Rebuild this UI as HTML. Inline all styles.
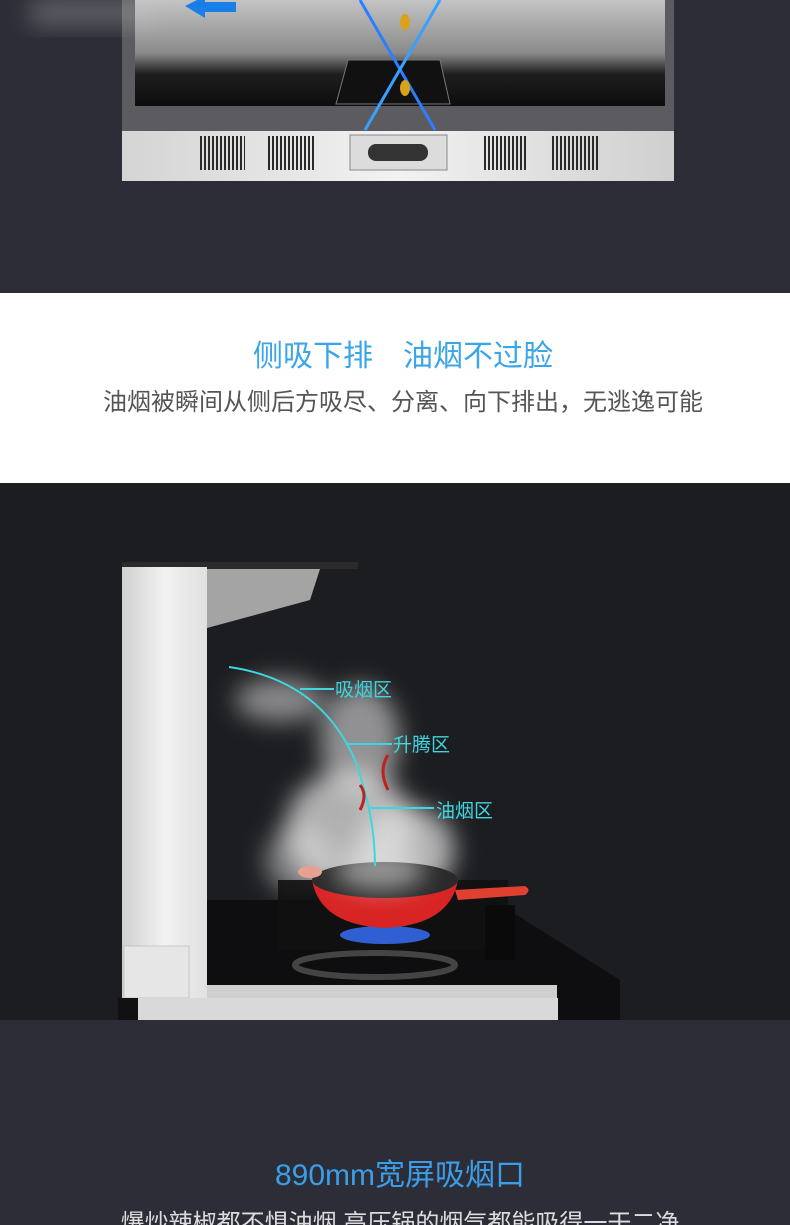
<!DOCTYPE html>
<html><head><meta charset="utf-8"><style>
html,body{margin:0;padding:0;background:#2d2d37;}
svg{display:block}
text{font-family:"Liberation Sans","Noto Sans CJK SC",sans-serif}
</style></head><body>
<svg width="790" height="1225" viewBox="0 0 790 1225" xmlns="http://www.w3.org/2000/svg">
<defs>
<linearGradient id="scr" x1="0" y1="0" x2="0" y2="1"><stop offset="0" stop-color="#c4c4c4"/><stop offset="0.5" stop-color="#8a8a8a"/><stop offset="0.7" stop-color="#1e1e1e"/><stop offset="1" stop-color="#0d0d0d"/></linearGradient>
<linearGradient id="steel" x1="0" y1="0" x2="1" y2="0"><stop offset="0" stop-color="#d4d4d4"/><stop offset="0.5" stop-color="#f2f2f2"/><stop offset="1" stop-color="#cfcfcf"/></linearGradient>
<linearGradient id="col" x1="0" y1="0" x2="1" y2="0"><stop offset="0" stop-color="#d0d0d0"/><stop offset="0.5" stop-color="#f2f2f2"/><stop offset="1" stop-color="#e0e0e0"/></linearGradient>
<filter id="blur" x="-50%" y="-50%" width="200%" height="200%"><feGaussianBlur stdDeviation="12"/></filter>
<pattern id="vent" width="4" height="10" patternUnits="userSpaceOnUse"><rect width="2" height="10" fill="#2a2a2a"/></pattern>
</defs>
<rect width="790" height="293" fill="#2d2d37"/>
<rect x="122" y="0" width="552" height="132" fill="#5c5c60"/>
<rect x="135" y="0" width="530" height="106" fill="url(#scr)"/>
<rect x="30" y="0" width="120" height="25" fill="#c8c8c8" opacity="0.35" filter="url(#blur)"/>
<polygon points="185,6 205,-4 205,2 236,2 236,12 205,12 205,18" fill="#1a7ee8"/>
<polygon points="336,104 348,60 440,60 450,104" fill="#111" stroke="#777"/>
<line x1="360" y1="0" x2="435" y2="130" stroke="#2a7fff" stroke-width="3"/>
<line x1="440" y1="0" x2="365" y2="130" stroke="#39a0ff" stroke-width="3"/>
<ellipse cx="405" cy="22" rx="5" ry="8" fill="#d9a21a"/>
<ellipse cx="405" cy="88" rx="5" ry="8" fill="#d9a21a"/>
<rect x="122" y="131" width="552" height="50" fill="url(#steel)"/>
<rect x="198" y="136" width="47" height="34" fill="url(#vent)"/>
<rect x="267" y="136" width="48" height="34" fill="url(#vent)"/>
<rect x="482" y="136" width="46" height="34" fill="url(#vent)"/>
<rect x="550" y="136" width="48" height="34" fill="url(#vent)"/>
<rect x="350" y="135" width="97" height="35" fill="#dcdcdc" stroke="#888"/>
<rect x="368" y="144" width="60" height="17" rx="8" fill="#333"/>
<rect x="0" y="293" width="790" height="190" fill="#ffffff"/>
<text x="403" y="366" text-anchor="middle" font-size="30" fill="#3aa5e8">侧吸下排　油烟不过脸</text>
<text x="403" y="410" text-anchor="middle" font-size="24" fill="#555">油烟被瞬间从侧后方吸尽、分离、向下排出，无逃逸可能</text>
<rect x="0" y="483" width="790" height="537" fill="#1c1d20"/>
<g filter="url(#blur)" fill="#e0e0e0">
<ellipse cx="280" cy="700" rx="45" ry="22" opacity="0.55"/>
<ellipse cx="360" cy="740" rx="40" ry="55" opacity="0.6"/>
<ellipse cx="350" cy="830" rx="65" ry="60" opacity="0.75"/>
<ellipse cx="405" cy="850" rx="50" ry="45" opacity="0.75"/>
<ellipse cx="300" cy="860" rx="35" ry="35" opacity="0.5"/>
</g>
<rect x="122" y="562" width="236" height="7" fill="#2b2b2b"/>
<polygon points="207,569 320,569 310,600 207,628" fill="#a4a4a4"/>
<rect x="122" y="567" width="85" height="453" fill="url(#col)"/>
<rect x="124" y="946" width="65" height="52" fill="#e6e6e6" stroke="#aaa" stroke-width="0.5"/>
<polygon points="207,900 493,900 620,980 620,1020 207,1020" fill="#0e0e10"/>
<rect x="207" y="985" width="350" height="14" fill="#cfcfcf"/>
<rect x="118" y="998" width="440" height="22" fill="#d9d9d9"/>
<rect x="118" y="998" width="20" height="22" fill="#111"/>
<rect x="278" y="880" width="230" height="70" fill="#111" opacity="0.9"/>
<ellipse cx="385" cy="935" rx="45" ry="9" fill="#2f5fd0"/>
<ellipse cx="375" cy="965" rx="80" ry="12" fill="none" stroke="#444" stroke-width="6"/>
<rect x="485" y="905" width="30" height="55" fill="#0a0a0a"/>
<path d="M312,880 Q320,925 385,928 Q450,925 458,880 Z" fill="#d92424"/>
<ellipse cx="385" cy="880" rx="73" ry="18" fill="#2a2a2a"/>
<path d="M455,890 L525,886 Q532,890 525,895 L458,900 Z" fill="#e04030"/>
<ellipse cx="310" cy="872" rx="12" ry="6" fill="#e8a090"/>
<g filter="url(#blur)"><ellipse cx="380" cy="870" rx="45" ry="20" fill="#e0e0e0" opacity="0.6"/></g>
<path d="M229,667 Q320,680 355,760 Q375,815 375,866" fill="none" stroke="#3fd6e0" stroke-width="2"/>
<line x1="300" y1="689" x2="334" y2="689" stroke="#3fd6e0" stroke-width="2"/>
<line x1="346" y1="744" x2="392" y2="744" stroke="#3fd6e0" stroke-width="2"/>
<line x1="370" y1="808" x2="434" y2="808" stroke="#3fd6e0" stroke-width="2"/>
<text x="335" y="696" font-size="19" fill="#3fd6e0">吸烟区</text>
<text x="393" y="751" font-size="19" fill="#3fd6e0">升腾区</text>
<text x="436" y="817" font-size="19" fill="#3fd6e0">油烟区</text>
<path d="M388,755 Q378,770 388,790" stroke="#c02020" stroke-width="3" fill="none"/>
<path d="M360,785 Q368,795 360,810" stroke="#c02020" stroke-width="3" fill="none"/>
<rect x="0" y="1020" width="790" height="205" fill="#2d2d37"/>
<text x="400" y="1185" text-anchor="middle" font-size="30" fill="#3a9ee8">890mm宽屏吸烟口</text>
<text x="400" y="1231" text-anchor="middle" font-size="24" fill="#dddddd">爆炒辣椒都不惧油烟 高压锅的烟气都能吸得一干二净</text>
</svg>
</body></html>
